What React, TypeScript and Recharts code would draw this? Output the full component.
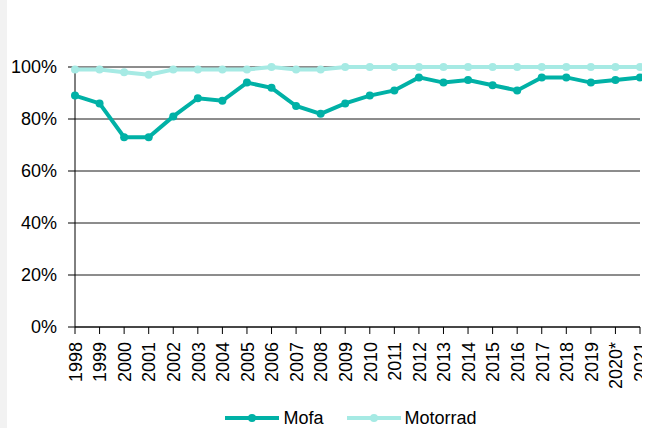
import React from 'react';
import {
  LineChart,
  Line,
  XAxis,
  YAxis,
  CartesianGrid,
  Legend
} from 'recharts';

const years = [
  '1998', '1999', '2000', '2001', '2002', '2003', '2004', '2005',
  '2006', '2007', '2008', '2009', '2010', '2011', '2012', '2013',
  '2014', '2015', '2016', '2017', '2018', '2019', '2020*', '2021'
];

const mofa = [
  89, 86, 73, 73, 81, 88, 87, 94, 92, 85, 82, 86,
  89, 91, 96, 94, 95, 93, 91, 96, 96, 94, 95, 96
];

const motorrad = [
  99, 99, 98, 97, 99, 99, 99, 99, 100, 99, 99, 100,
  100, 100, 100, 100, 100, 100, 100, 100, 100, 100, 100, 100
];

const yTicks = [0, 20, 40, 60, 80, 100];

const MOFA_COLOR = '#00b1a6';
const MOTORRAD_COLOR = '#a6eae4';
const FONT = '"Liberation Sans", Arial, sans-serif';

const data = years.map((year, i) => ({
  year,
  Mofa: mofa[i],
  Motorrad: motorrad[i]
}));

function LegendContent() {
  const items = [
    { name: 'Mofa', color: MOFA_COLOR },
    { name: 'Motorrad', color: MOTORRAD_COLOR }
  ];
  return (
    <div
      style={{
        display: 'flex',
        justifyContent: 'center',
        alignItems: 'center',
        paddingLeft: 54,
        height: 20,
        fontFamily: FONT,
        fontSize: 18,
        color: '#000'
      }}
    >
      {items.map((item, i) => (
        <div
          key={item.name}
          style={{ display: 'flex', alignItems: 'center', marginLeft: i ? 23 : 0 }}
        >
          <svg width={54} height={10} style={{ marginRight: 4 }}>
            <line x1={0} y1={5} x2={54} y2={5} stroke={item.color} strokeWidth={4} />
            <circle cx={27} cy={5} r={4} fill={item.color} />
          </svg>
          <span>{item.name}</span>
        </div>
      ))}
    </div>
  );
}

export default function App() {
  return (
    <div>
      <div
        style={{
          position: 'fixed',
          left: 0,
          top: 0,
          width: 7,
          height: '100%',
          background: '#f2f2f2'
        }}
      />
      <LineChart
        width={642}
        height={420}
        data={data}
        margin={{ top: 59, right: 10, bottom: 0, left: 0 }}
      >
        <CartesianGrid vertical={false} stroke="#1a1a1a" strokeWidth={1} />
        <XAxis
          dataKey="year"
          interval={0}
          angle={-90}
          textAnchor="end"
          height={81}
          stroke="#000"
          tickSize={7}
          tick={{ fill: '#000', fontSize: 18, fontFamily: FONT, dx: -6, dy: 6 }}
        />
        <YAxis
          domain={[0, 100]}
          ticks={yTicks}
          width={67}
          stroke="#000"
          tickSize={7}
          tickFormatter={(v: number) => `${v}%`}
          tick={{ fill: '#000', fontSize: 18, fontFamily: FONT, dx: -9 }}
        />
        <Legend verticalAlign="bottom" content={() => <LegendContent />} />
        <Line
          type="linear"
          dataKey="Motorrad"
          stroke={MOTORRAD_COLOR}
          strokeWidth={4}
          dot={{ r: 4, fill: MOTORRAD_COLOR, stroke: 'none' }}
          isAnimationActive={false}
        />
        <Line
          type="linear"
          dataKey="Mofa"
          stroke={MOFA_COLOR}
          strokeWidth={4}
          dot={{ r: 4, fill: MOFA_COLOR, stroke: 'none' }}
          isAnimationActive={false}
        />
      </LineChart>
    </div>
  );
}
